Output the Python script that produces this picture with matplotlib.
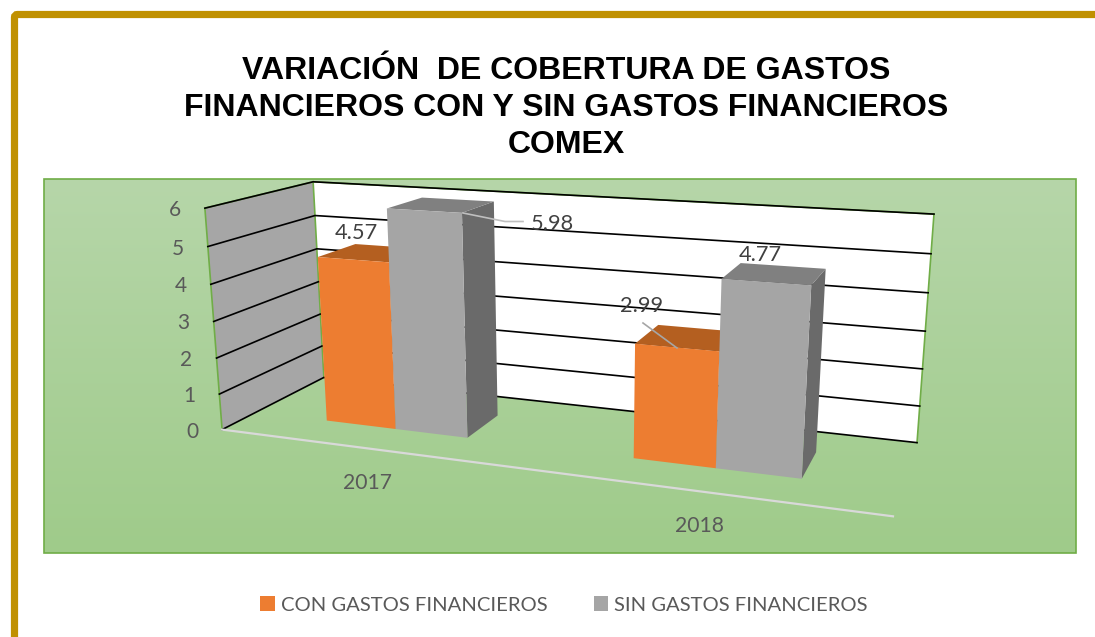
import numpy as np
import matplotlib
matplotlib.use("Agg")
import matplotlib.pyplot as plt
from matplotlib.patches import Polygon, Rectangle, FancyBboxPatch, Patch

TITLE = "VARIACIÓN  DE COBERTURA DE GASTOS\nFINANCIEROS CON Y SIN GASTOS FINANCIEROS\nCOMEX"
categories = ["2017", "2018"]
series_names = ["CON GASTOS FINANCIEROS", "SIN GASTOS FINANCIEROS"]
con_gastos = [4.57, 2.99]
sin_gastos = [5.98, 4.77]
y_ticks = [0, 1, 2, 3, 4, 5, 6]

# Camera calibration: box corners (category, depth, value) -> picture pixels
BOX = [(0, 0, 0), (0, 0, 6), (0, 1, 6), (0, 1, 0), (2, 1, 6), (2, 1, 0), (2, 0, 0)]
PIX = [(222, 430), (205, 208), (313, 182), (324, 377), (934, 214), (917, 443), (893, 516)]


def fit_camera(box, pix):
    A, b = [], []
    for (X, Y, Z), (u, v) in zip(box, pix):
        A.append([X, Y, Z, 1, 0, 0, 0, 0, -u * X, -u * Y, -u * Z])
        b.append(u)
        A.append([0, 0, 0, 0, X, Y, Z, 1, -v * X, -v * Y, -v * Z])
        b.append(v)
    s = np.linalg.lstsq(np.array(A, float), np.array(b, float), rcond=None)[0]
    return np.append(s, 1.0).reshape(3, 4)


CAM = fit_camera(BOX, PIX)


def pr(x, d, z):
    h = CAM @ np.array([x, d, z, 1.0])
    return h[0] / h[2], h[1] / h[2]


BAR_W = 0.24
BAR_SHIFT = -0.005
D0, D1 = 0.31, 0.69
FONT = "Lato"
TXT = "#595959"
GREEN = "#70AD47"

fig = plt.figure(figsize=(10.95, 6.37), dpi=100, facecolor="white")
ax = fig.add_axes([0, 0, 1, 1])
ax.set_xlim(0, 1095)
ax.set_ylim(637, 0)
ax.axis("off")

# gold outer frame
ax.add_patch(FancyBboxPatch((14.5, 14.5), 1200, 800, boxstyle="round,pad=0,rounding_size=3",
                            fc="white", ec="#C09000", lw=5.2))

# green gradient panel
grad = np.linspace(0, 1, 256).reshape(-1, 1, 1)
c0 = np.array([0xB6, 0xD6, 0xA9]) / 255
c1 = np.array([0x9F, 0xCB, 0x8A]) / 255
ax.imshow(c0 + (c1 - c0) * grad, extent=(44, 1076, 553, 179), aspect="auto", zorder=1)
ax.add_patch(Rectangle((44, 179), 1032, 374, fc="none", ec=GREEN, lw=1.2, zorder=1.1))
ax.set_xlim(0, 1095)
ax.set_ylim(637, 0)

# walls
ax.add_patch(Polygon([pr(0, 0, 0), pr(0, 0, 6), pr(0, 1, 6), pr(0, 1, 0)], fc="#A6A6A6", ec="none", zorder=2))
ax.add_patch(Polygon([pr(0, 1, 0), pr(0, 1, 6), pr(2, 1, 6), pr(2, 1, 0)], fc="white", ec="none", zorder=2))
for seg in ([pr(0, 0, 0), pr(0, 0, 6), pr(0, 1, 6)],
            [pr(0, 1, 6), pr(0, 1, 0)],
            [pr(2, 1, 6), pr(2, 1, 0)],
            [pr(0, 1, 6), pr(2, 1, 6)]):
    ax.plot(*zip(*seg), color=GREEN, lw=1.2, zorder=2.1)
for v in y_ticks:
    pts = [pr(0, 0, v), pr(0, 1, v), pr(2, 1, v)]
    ax.plot(*zip(*pts), color="black", lw=1.2, zorder=2.2)
    x, y = pr(0, 0, v)
    ax.text(x - 30, y + 2, str(v), ha="center", va="center", fontsize=15, family=FONT, color=TXT, zorder=6)

# floor axis line
ax.plot(*zip(pr(0, 0, 0), pr(2, 0, 0)), color="#D9D9D9", lw=1.6, zorder=2.3)


def bar(x0, x1, val, front, top, side, z):
    ax.add_patch(Polygon([pr(x1, D0, 0), pr(x1, D1, 0), pr(x1, D1, val), pr(x1, D0, val)], fc=side, ec="none", zorder=z))
    ax.add_patch(Polygon([pr(x0, D0, val), pr(x1, D0, val), pr(x1, D1, val), pr(x0, D1, val)], fc=top, ec="none", zorder=z))
    ax.add_patch(Polygon([pr(x0, D0, 0), pr(x1, D0, 0), pr(x1, D0, val), pr(x0, D0, val)], fc=front, ec="none", zorder=z + 0.1))


for i, (a, b) in enumerate(zip(con_gastos, sin_gastos)):
    c = i + 0.5 + BAR_SHIFT
    bar(c - BAR_W, c, a, "#ED7D31", "#B45F20", "#B45F20", 3 + i)
    bar(c, c + BAR_W, b, "#A5A5A5", "#808080", "#6A6A6A", 3.3 + i)

# data labels and leader lines
LABEL_XY = [[(356, 233), (642, 306)], [(552, 224), (760, 255)]]
for vals, xy in zip([con_gastos, sin_gastos], LABEL_XY):
    for v, (x, y) in zip(vals, xy):
        ax.text(x, y, f"{v:.2f}", ha="center", va="center", fontsize=15.7, family=FONT, color="#404040", zorder=7)
ax.plot([463, 505, 523], [213, 221.5, 221.5], color="#BFBFBF", lw=1.2, zorder=6)
ax.plot([643, 677], [323, 348], color="#A6A6A6", lw=1.2, zorder=6)

# category labels
for name, (x, y) in zip(categories, [(367, 483), (699, 526)]):
    ax.text(x, y, name, ha="center", va="center", fontsize=15.2, family=FONT, color=TXT, zorder=6)

# title
ax.text(566, 108, TITLE, ha="center", va="center", fontsize=23, fontweight="bold",
        family="Liberation Sans", color="black", linespacing=1.29, zorder=6)

# legend
handles = [Patch(fc="#ED7D31", label=series_names[0]), Patch(fc="#A5A5A5", label=series_names[1])]
ax.legend(handles=handles, ncol=2, loc="center", bbox_to_anchor=(564, 605), bbox_transform=ax.transData,
          frameon=False, handlelength=0.7, handleheight=0.7, handletextpad=0.3, columnspacing=2.3,
          prop={"family": FONT, "size": 14.6}, labelcolor=TXT, borderpad=0)

fig.savefig("out.png", dpi=100, facecolor="white")
